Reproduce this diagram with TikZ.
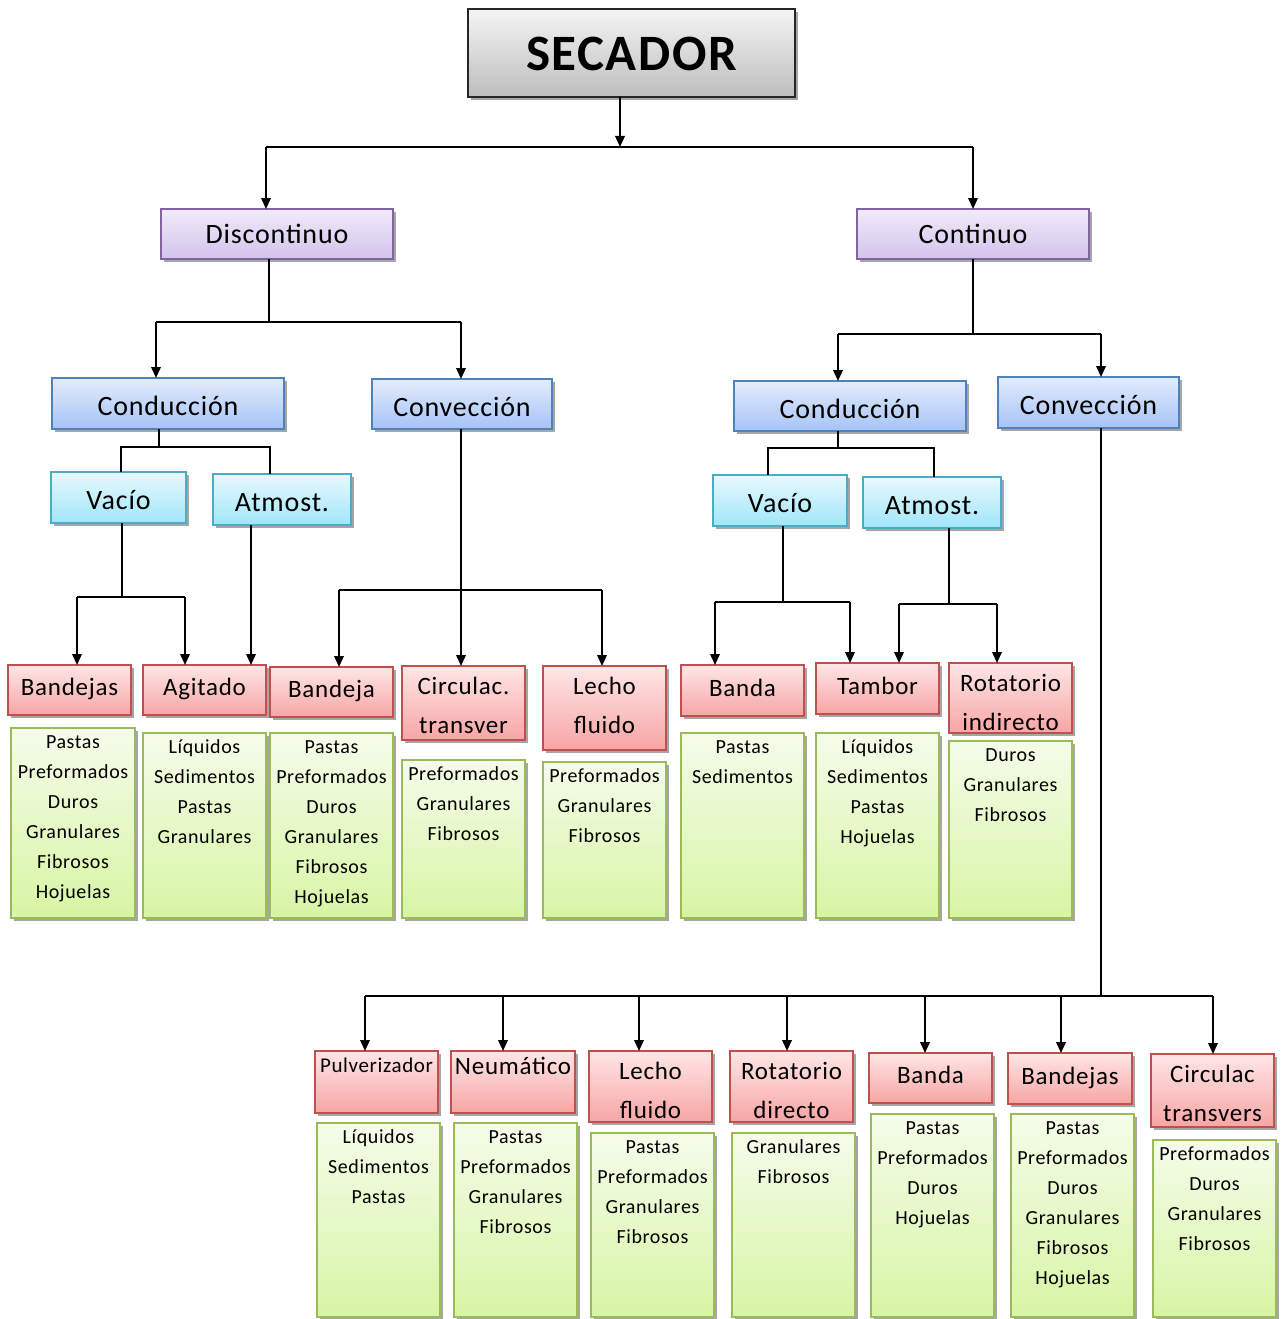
\documentclass[tikz,border=0pt]{standalone}
\usepackage{fontspec}
\setmainfont{Carlito}[LetterSpace=3]
\usetikzlibrary{arrows.meta,shadows}

\definecolor{graytop}{HTML}{F5F5F5}\definecolor{graybot}{HTML}{BDBDBD}\definecolor{grayedge}{HTML}{262626}
\definecolor{purptop}{HTML}{F1EBF9}\definecolor{purpbot}{HTML}{D2C3EC}\definecolor{purpedge}{HTML}{8064A2}
\definecolor{bluetop}{HTML}{E3ECFD}\definecolor{bluebot}{HTML}{A6C3F6}\definecolor{blueedge}{HTML}{4F81BD}
\definecolor{cyantop}{HTML}{E8F9FE}\definecolor{cyanbot}{HTML}{A0E6F9}\definecolor{cyanedge}{HTML}{4BACC6}
\definecolor{redtop}{HTML}{FFE6E6}\definecolor{redbot}{HTML}{F7A5A5}\definecolor{rededge}{HTML}{C0504D}
\definecolor{grntop}{HTML}{F5FCEA}\definecolor{grnbot}{HTML}{D7F5A4}\definecolor{grnedge}{HTML}{9BBB59}
\definecolor{shadowgray}{HTML}{A6A6A6}

\newcommand{\lines}[1]{\begin{tabular}[t]{@{}c@{}}#1\end{tabular}}

\tikzset{
  box/.style={draw, line width=1.6pt, inner sep=0pt, outer sep=0pt, anchor=north west,
    drop shadow={shadow xshift=3pt, shadow yshift=-3pt, fill=shadowgray, opacity=1}},
  graybox/.style={box, draw=grayedge, top color=graytop, bottom color=graybot,
    font=\fontsize{51}{60}\selectfont\bfseries, text height=38pt, text depth=2pt},
  purpbox/.style={box, draw=purpedge, top color=purptop, bottom color=purpbot,
    font=\fontsize{28}{34}\selectfont, text height=20pt, text depth=1pt},
  bluebox/.style={box, draw=blueedge, top color=bluetop, bottom color=bluebot,
    font=\fontsize{28}{34}\selectfont, text height=24pt, text depth=0pt},
  cyanbox/.style={box, draw=cyanedge, top color=cyantop, bottom color=cyanbot,
    font=\fontsize{28}{34}\selectfont, text height=24pt, text depth=0pt},
  redbox/.style={box, draw=rededge, top color=redtop, bottom color=redbot,
    font=\fontsize{25}{39}\selectfont, text height=17.5pt, text depth=6.5pt},
  grnbox/.style={box, draw=grnedge, top color=grntop, bottom color=grnbot},
  toptxt/.style={anchor=base, inner sep=0pt, yshift=-#1},
  rtxt/.style={toptxt=28pt, font=\fontsize{25}{39}\selectfont},
  gtxt/.style={toptxt=20pt, font=\fontsize{20}{30}\selectfont},
  ln/.style={line width=2pt, draw=black},
  arr/.style={ln, -{Triangle[length=11pt,width=9.5pt]}},
}

\begin{document}
\begin{tikzpicture}[x=1pt,y=-1pt]
\useasboundingbox (0,0) rectangle (1286,1319);

% ---------- top levels ----------
\node[graybox, minimum width=327pt, minimum height=88pt] (secador) at (468,9) {SECADOR};
\node[purpbox, minimum width=232pt, minimum height=50pt] (disc) at (161,209) {Discontinuo};
\node[purpbox, minimum width=232pt, minimum height=50pt] (cont) at (857,209) {Continuo};

\node[bluebox, minimum width=232pt, minimum height=51pt] (condL) at (52,378) {Conducción};
\node[bluebox, minimum width=180pt, minimum height=50pt] (convL) at (372,379) {Convección};
\node[bluebox, minimum width=232pt, minimum height=50pt] (condR) at (734,381) {Conducción};
\node[bluebox, minimum width=181pt, minimum height=51pt] (convR) at (998,377) {Convección};

\node[cyanbox, minimum width=135pt, minimum height=51pt] (vacL) at (51,472) {Vacío};
\node[cyanbox, minimum width=138pt, minimum height=51pt] (atmL) at (213,474) {Atmost.};
\node[cyanbox, minimum width=134pt, minimum height=51pt] (vacR) at (713,475) {Vacío};
\node[cyanbox, minimum width=138pt, minimum height=51pt] (atmR) at (863,477) {Atmost.};

% ---------- first row of dryer types ----------
\node[redbox, minimum width=123pt, minimum height=50pt] (r1a) at (8,665) {Bandejas};
\node[redbox, minimum width=123pt, minimum height=50pt] (r1b) at (143,665) {Agitado};
\node[redbox, minimum width=123pt, minimum height=50pt] (r1c) at (270,667) {Bandeja};
\node[redbox, minimum width=123pt, minimum height=74pt,
  label={[rtxt]north:{\lines{Circulac.\\transver}}}] (r1d) at (402,666) {};
\node[redbox, minimum width=123pt, minimum height=84pt,
  label={[rtxt]north:{\lines{Lecho\\fluido}}}] (r1e) at (543,666) {};
\node[redbox, minimum width=123pt, minimum height=51pt] (r1f) at (681,665) {Banda};
\node[redbox, minimum width=123pt, minimum height=51pt] (r1g) at (816,663) {Tambor};
\node[redbox, minimum width=123pt, minimum height=70pt,
  label={[rtxt=29pt]north:{\lines{Rotatorio\\indirecto}}}] (r1h) at (949,663) {};

\node[grnbox, minimum width=124pt, minimum height=190pt,
  label={[gtxt]north:{\lines{Pastas\\Preformados\\Duros\\Granulares\\Fibrosos\\Hojuelas}}}] (g1a) at (11,728) {};
\node[grnbox, minimum width=123pt, minimum height=185pt,
  label={[gtxt]north:{\lines{Líquidos\\Sedimentos\\Pastas\\Granulares}}}] (g1b) at (143,733) {};
\node[grnbox, minimum width=123pt, minimum height=185pt,
  label={[gtxt]north:{\lines{Pastas\\Preformados\\Duros\\Granulares\\Fibrosos\\Hojuelas}}}] (g1c) at (270,733) {};
\node[grnbox, minimum width=123pt, minimum height=158pt,
  label={[gtxt]north:{\lines{Preformados\\Granulares\\Fibrosos}}}] (g1d) at (402,760) {};
\node[grnbox, minimum width=123pt, minimum height=156pt,
  label={[gtxt]north:{\lines{Preformados\\Granulares\\Fibrosos}}}] (g1e) at (543,762) {};
\node[grnbox, minimum width=123pt, minimum height=185pt,
  label={[gtxt]north:{\lines{Pastas\\Sedimentos}}}] (g1f) at (681,733) {};
\node[grnbox, minimum width=123pt, minimum height=185pt,
  label={[gtxt]north:{\lines{Líquidos\\Sedimentos\\Pastas\\Hojuelas}}}] (g1g) at (816,733) {};
\node[grnbox, minimum width=123pt, minimum height=177pt,
  label={[gtxt]north:{\lines{Duros\\Granulares\\Fibrosos}}}] (g1h) at (949,741) {};

% ---------- second row of dryer types ----------
\node[redbox, minimum width=123pt, minimum height=62pt,
  label={[toptxt=21pt, font=\fontsize{21}{30}\selectfont]north:{Pulverizador}}] (r2a) at (315,1051) {};
\node[redbox, minimum width=124pt, minimum height=62pt,
  label={[toptxt=23pt, font=\fontsize{25}{39}\selectfont]north:{Neumático}}] (r2b) at (451,1051) {};
\node[redbox, minimum width=123pt, minimum height=71pt,
  label={[rtxt=29pt]north:{\lines{Lecho\\fluido}}}] (r2c) at (589,1051) {};
\node[redbox, minimum width=123pt, minimum height=71pt,
  label={[rtxt=29pt]north:{\lines{Rotatorio\\directo}}}] (r2d) at (730,1051) {};
\node[redbox, minimum width=123pt, minimum height=50pt] (r2e) at (869,1053) {Banda};
\node[redbox, minimum width=124pt, minimum height=51pt] (r2f) at (1008,1053) {Bandejas};
\node[redbox, minimum width=123pt, minimum height=73pt,
  label={[rtxt=28pt]north:{\lines{Circulac\\transvers}}}] (r2g) at (1151,1054) {};

\node[grnbox, minimum width=123pt, minimum height=194pt,
  label={[gtxt=19pt]north:{\lines{Líquidos\\Sedimentos\\Pastas}}}] (g2a) at (317,1123) {};
\node[grnbox, minimum width=123pt, minimum height=194pt,
  label={[gtxt=19pt]north:{\lines{Pastas\\Preformados\\Granulares\\Fibrosos}}}] (g2b) at (454,1123) {};
\node[grnbox, minimum width=123pt, minimum height=184pt,
  label={[gtxt]north:{\lines{Pastas\\Preformados\\Granulares\\Fibrosos}}}] (g2c) at (591,1133) {};
\node[grnbox, minimum width=123pt, minimum height=184pt,
  label={[gtxt]north:{\lines{Granulares\\Fibrosos}}}] (g2d) at (732,1133) {};
\node[grnbox, minimum width=123pt, minimum height=203pt,
  label={[gtxt]north:{\lines{Pastas\\Preformados\\Duros\\Hojuelas}}}] (g2e) at (871,1114) {};
\node[grnbox, minimum width=123pt, minimum height=203pt,
  label={[gtxt]north:{\lines{Pastas\\Preformados\\Duros\\Granulares\\Fibrosos\\Hojuelas}}}] (g2f) at (1011,1114) {};
\node[grnbox, minimum width=123pt, minimum height=177pt,
  label={[gtxt=19pt]north:{\lines{Preformados\\Duros\\Granulares\\Fibrosos}}}] (g2g) at (1153,1140) {};

% ---------- junction points ----------
\coordinate (j0)  at (620,147);  \coordinate (j0l) at (266,147);  \coordinate (j0r) at (973,147);
\coordinate (j1)  at (269,322);  \coordinate (j1l) at (156,322);  \coordinate (j1r) at (461,322);
\coordinate (j2)  at (973,334);  \coordinate (j2l) at (838,334);  \coordinate (j2r) at (1101,334);
\coordinate (j3)  at (159,447);  \coordinate (j3l) at (121,447);  \coordinate (j3r) at (270,447);
\coordinate (j4)  at (838,448);  \coordinate (j4l) at (768,448);  \coordinate (j4r) at (934,448);
\coordinate (j5)  at (122,597);  \coordinate (j5l) at (77,597);   \coordinate (j5r) at (185,597);
\coordinate (j6)  at (251,600);
\coordinate (j7)  at (461,590);  \coordinate (j7l) at (339,590);  \coordinate (j7r) at (602,590);
\coordinate (j8)  at (783,602);  \coordinate (j8l) at (715,602);  \coordinate (j8r) at (850,602);
\coordinate (j9)  at (949,604);  \coordinate (j9l) at (899,604);  \coordinate (j9r) at (997,604);
\coordinate (j10) at (1101,996); \coordinate (j10l) at (365,996); \coordinate (j10r) at (1213,996);

% ---------- connectors ----------
\draw[arr] (j0 |- secador.south) -- (j0);
\draw[ln] (j0l) -- (j0r);
\draw[arr] (j0l) -- (j0l |- disc.north);
\draw[arr] (j0r) -- (j0r |- cont.north);

\draw[ln] (j1 |- disc.south) -- (j1);
\draw[ln] (j1l) -- (j1r);
\draw[arr] (j1l) -- (j1l |- condL.north);
\draw[arr] (j1r) -- (j1r |- convL.north);

\draw[ln] (j2 |- cont.south) -- (j2);
\draw[ln] (j2l) -- (j2r);
\draw[arr] (j2l) -- (j2l |- condR.north);
\draw[arr] (j2r) -- (j2r |- convR.north);

\draw[ln] (j3 |- condL.south) -- (j3);
\draw[ln] (j3l |- vacL.north) -- (j3l) -- (j3r) -- (j3r |- atmL.north);

\draw[ln] (j4 |- condR.south) -- (j4);
\draw[ln] (j4l |- vacR.north) -- (j4l) -- (j4r) -- (j4r |- atmR.north);

\draw[ln] (j5 |- vacL.south) -- (j5);
\draw[ln] (j5l) -- (j5r);
\draw[arr] (j5l) -- (j5l |- r1a.north);
\draw[arr] (j5r) -- (j5r |- r1b.north);
\draw[arr] (j6 |- atmL.south) -- (j6 |- r1b.north);

\draw[arr] (j7 |- convL.south) -- (j7 |- r1d.north);
\draw[ln] (j7l) -- (j7r);
\draw[arr] (j7l) -- (j7l |- r1c.north);
\draw[arr] (j7r) -- (j7r |- r1e.north);

\draw[ln] (j8 |- vacR.south) -- (j8);
\draw[ln] (j8l) -- (j8r);
\draw[arr] (j8l) -- (j8l |- r1f.north);
\draw[arr] (j8r) -- (j8r |- r1g.north);

\draw[ln] (j9 |- atmR.south) -- (j9);
\draw[ln] (j9l) -- (j9r);
\draw[arr] (j9l) -- (j9l |- r1g.north);
\draw[arr] (j9r) -- (j9r |- r1h.north);

\draw[ln] (j10 |- convR.south) -- (j10);
\draw[ln] (j10l) -- (j10r);
\draw[arr] (j10l) -- (j10l |- r2a.north);
\draw[arr] (503,996) -- (503,996 |- r2b.north);
\draw[arr] (639,996) -- (639,996 |- r2c.north);
\draw[arr] (787,996) -- (787,996 |- r2d.north);
\draw[arr] (925,996) -- (925,996 |- r2e.north);
\draw[arr] (1061,996) -- (1061,996 |- r2f.north);
\draw[arr] (j10r) -- (j10r |- r2g.north);
\end{tikzpicture}
\end{document}
